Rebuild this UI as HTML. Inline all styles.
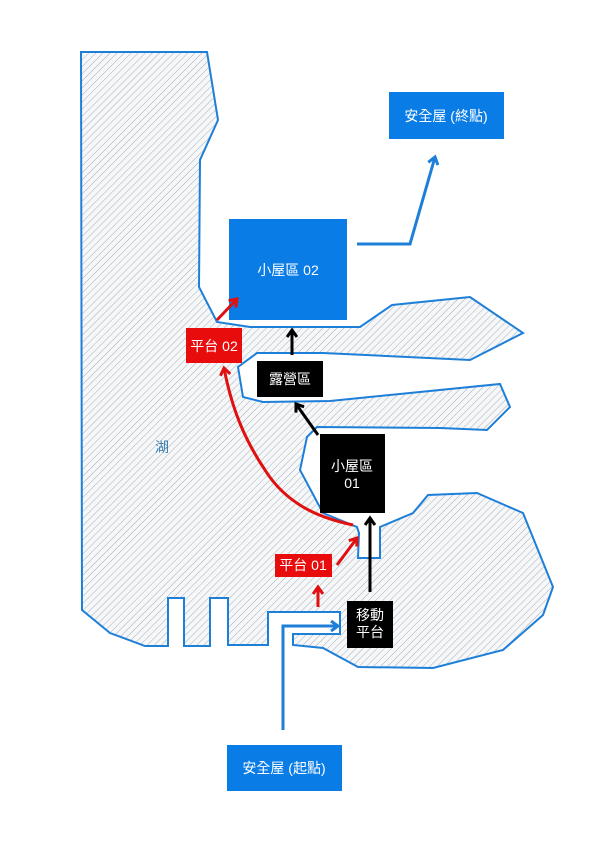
<!DOCTYPE html>
<html><head><meta charset="utf-8"><style>
html,body{margin:0;padding:0;background:#fff;}
svg{display:block;}
text{font-family:"Liberation Sans","Noto Sans CJK TC",sans-serif;}
</style></head><body>
<svg width="600" height="848" viewBox="0 0 600 848" xmlns="http://www.w3.org/2000/svg">
<defs>
<pattern id="h" width="5" height="5" patternUnits="userSpaceOnUse" patternTransform="rotate(45)">
<rect width="5" height="5" fill="#f5f7f9"/>
<line x1="0" y1="0" x2="0" y2="5" stroke="#a9aeb5" stroke-width="1"/>
</pattern>
<marker id="ab" markerWidth="12" markerHeight="12" refX="8" refY="6" orient="auto" markerUnits="userSpaceOnUse"><path d="M1,1 L8,6 L1,11" fill="none" stroke="#1e7fd8" stroke-width="3"/></marker>
<marker id="ar" markerWidth="12" markerHeight="12" refX="8" refY="6" orient="auto" markerUnits="userSpaceOnUse"><path d="M1,1 L8,6 L1,11" fill="none" stroke="#e01010" stroke-width="3"/></marker>
<marker id="ak" markerWidth="12" markerHeight="12" refX="8" refY="6" orient="auto" markerUnits="userSpaceOnUse"><path d="M1,1 L8,6 L1,11" fill="none" stroke="#000" stroke-width="3"/></marker>
</defs>
<path d="M81,52 L207,52 L218,120 L200,160 L199,287 L217,322 L250,327 L360,327 L392,305 L470,297 L523,333 L470,360 L323,353 L257,353 L238,367 L243,397 L263,402 L330,401 L500,384 L510,407 L487,430 L440,428 L317,427 L307,437 L300,470 L323,513 L357,527 L359,533 L358,558 L380,558 L380,527 L413,513 L428,495 L477,493 L523,513 L553,587 L543,615 L503,650 L433,668 L358,667 L323,648 L293,645 L293,634 L340,634 L340,612 L268,612 L268,645 L228,645 L228,598 L210,598 L210,646 L184,646 L184,598 L168,598 L168,646 L145,646 L110,633 L82,610 Z" fill="url(#h)" stroke="#1e7fd8" stroke-width="2"/>
<text x="162" y="452" font-size="14" fill="#3a7fb0" text-anchor="middle">湖</text>
<rect x="389" y="92" width="115" height="47" fill="#0a7ce6"/>
<text x="446" y="121" font-size="14" fill="#fff" text-anchor="middle">安全屋 (終點)</text>
<rect x="229" y="219" width="118" height="101" fill="#0a7ce6"/>
<text x="288" y="275" font-size="14" fill="#fff" text-anchor="middle">小屋區 02</text>
<rect x="186" y="328" width="56" height="35" fill="#e80c0c"/>
<text x="214" y="351" font-size="14" fill="#fff" text-anchor="middle">平台 02</text>
<rect x="257" y="361" width="66" height="36" fill="#000"/>
<text x="290" y="384" font-size="14" fill="#fff" text-anchor="middle">露營區</text>
<rect x="320" y="434" width="65" height="79" fill="#000"/>
<text x="352" y="471" font-size="14" fill="#fff" text-anchor="middle">小屋區</text>
<text x="352" y="488" font-size="14" fill="#fff" text-anchor="middle">01</text>
<rect x="275" y="554" width="57" height="23" fill="#e80c0c"/>
<text x="303" y="570" font-size="14" fill="#fff" text-anchor="middle">平台 01</text>
<rect x="347" y="601" width="46" height="47" fill="#000"/>
<text x="370" y="620" font-size="14" fill="#fff" text-anchor="middle">移動</text>
<text x="370" y="637" font-size="14" fill="#fff" text-anchor="middle">平台</text>
<rect x="227" y="745" width="115" height="46" fill="#0a7ce6"/>
<text x="284" y="773" font-size="14" fill="#fff" text-anchor="middle">安全屋 (起點)</text>
<path d="M283,730 L283,626 L338,626" fill="none" stroke="#1e7fd8" stroke-width="3" marker-end="url(#ab)"/>
<path d="M357,244 L410,244 L435,157" fill="none" stroke="#1e7fd8" stroke-width="3" marker-end="url(#ab)"/>
<path d="M370,592 L370,518" fill="none" stroke="#000" stroke-width="3" marker-end="url(#ak)"/>
<path d="M318,435 L296,404" fill="none" stroke="#000" stroke-width="3" marker-end="url(#ak)"/>
<path d="M292,355 L292,330" fill="none" stroke="#000" stroke-width="3" marker-end="url(#ak)"/>
<path d="M318,607 L318,587" fill="none" stroke="#e01010" stroke-width="3" marker-end="url(#ar)"/>
<path d="M337,565 L357,538" fill="none" stroke="#e01010" stroke-width="3" marker-end="url(#ar)"/>
<path d="M217,320 L237,299" fill="none" stroke="#e01010" stroke-width="3" marker-end="url(#ar)"/>
<path d="M353,525 C330,520 290,510 265,470 C245,440 232,410 224,368" fill="none" stroke="#e01010" stroke-width="3" marker-end="url(#ar)"/>
</svg>
</body></html>
